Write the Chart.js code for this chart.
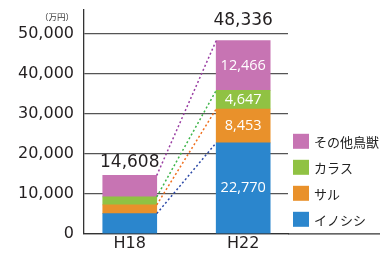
<!DOCTYPE html>
<html>
<head>
<meta charset="utf-8">
<script src="https://cdn.jsdelivr.net/npm/chart.js@4"></script>
<style>
  html, body { margin: 0; padding: 0; background: #fff; }
  #wrap { width: 380px; height: 253px; }
</style>
</head>
<body>
<div id="wrap"><canvas id="myChart"></canvas></div>
<script>
var years = ['H18', 'H22'];
var inoshishi = [5050, 22770];
var saru = [2200, 8453];
var karasu = [2000, 4647];
var sonota = [5358, 12466];
var yTicks = [0, 10000, 20000, 30000, 40000, 50000];

var seriesNames = ['イノシシ', 'サル', 'カラス', 'その他鳥獣'];
var seriesValues = [inoshishi, saru, karasu, sonota];
var barColors = ['#2b86cd', '#e9912b', '#90c243', '#c774b3'];
var lineColors = ['#2d4aa8', '#f0701f', '#3fb54a', '#9a3fa3'];

var textColor = '#231f20';
var numFont = 'DejaVu Sans';

function fmt(v) {
  return v.toLocaleString('en-US');
}

// dotted connectors, values in the H22 bar, totals on top, legend
var extras = {
  id: 'extras',
  afterDatasetsDraw: function (chart) {
    var ctx = chart.ctx;
    var area = chart.chartArea;
    var metas = [];
    for (var i = 0; i < chart.data.datasets.length; i++) {
      metas.push(chart.getDatasetMeta(i));
    }

    // base line runs on under the legend
    ctx.save();
    ctx.strokeStyle = '#333';
    ctx.lineWidth = 1.3;
    ctx.beginPath();
    ctx.moveTo(area.right, area.bottom);
    ctx.lineTo(chart.width, area.bottom);
    ctx.stroke();
    ctx.restore();

    ctx.save();
    ctx.setLineDash([2, 2.4]);
    ctx.lineWidth = 1.5;
    metas.forEach(function (meta, i) {
      var a = meta.data[0], b = meta.data[1];
      ctx.strokeStyle = lineColors[i];
      ctx.beginPath();
      ctx.moveTo(a.x + a.width / 2, a.y);
      ctx.lineTo(b.x - b.width / 2, b.y);
      ctx.stroke();
    });
    ctx.restore();

    ctx.save();
    ctx.fillStyle = '#fff';
    ctx.font = '14.5px "Open Sans"';
    ctx.textAlign = 'center';
    ctx.textBaseline = 'middle';
    metas.forEach(function (meta, i) {
      var el = meta.data[1];
      ctx.fillText(fmt(seriesValues[i][1]), el.x, (el.y + el.base) / 2);
    });
    ctx.restore();

    ctx.save();
    ctx.fillStyle = textColor;
    ctx.font = '17px "' + numFont + '"';
    ctx.textAlign = 'center';
    ctx.textBaseline = 'bottom';
    var gaps = [4, 12];
    years.forEach(function (y, j) {
      var total = 0;
      seriesValues.forEach(function (s) { total += s[j]; });
      var top = metas[metas.length - 1].data[j];
      ctx.fillText(fmt(total), top.x, top.y - gaps[j]);
    });
    ctx.restore();

    // unit label
    var ys = chart.scales.y;
    ctx.save();
    ctx.fillStyle = '#333';
    ctx.font = '8.5px "Noto Sans CJK JP"';
    ctx.textAlign = 'right';
    ctx.textBaseline = 'middle';
    ctx.fillText('（万円）', ys.right - 10, area.top + 7);
    ctx.restore();

    // legend, last series on top
    ctx.save();
    ctx.font = '13px "Noto Sans CJK JP"';
    ctx.textBaseline = 'middle';
    ctx.textAlign = 'left';
    var n = chart.data.datasets.length;
    var boxX = area.right + 5;
    var rowH = 26;
    var y0 = area.bottom - n * rowH + 4;
    for (var k = 0; k < n; k++) {
      var ds = chart.data.datasets[n - 1 - k];
      var yy = y0 + k * rowH;
      ctx.fillStyle = ds.backgroundColor;
      ctx.fillRect(boxX, yy, 16, 15);
      ctx.fillStyle = '#222';
      ctx.fillText(ds.label, boxX + 21, yy + 8);
    }
    ctx.restore();
  }
};

var datasets = seriesNames.map(function (name, i) {
  return {
    label: name,
    data: seriesValues[i].map(function (v, j) { return {x: j, y: v}; }),
    backgroundColor: barColors[i],
    borderWidth: 0,
    barThickness: 54
  };
});

const ctx = document.getElementById('myChart').getContext('2d');
const myChart = new Chart(ctx, {
  type: 'bar',
  data: { datasets: datasets },
  plugins: [extras],
  options: {
    responsive: true,
    maintainAspectRatio: false,
    animation: false,
    layout: { padding: { left: 16, top: 0, right: 92, bottom: 0 } },
    plugins: {
      tooltip: { enabled: false },
      legend: { display: false }
    },
    scales: {
      x: {
        type: 'linear',
        stacked: true,
        offset: false,
        min: -0.4035,
        max: 1.395,
        afterBuildTicks: function (scale) {
          scale.ticks = years.map(function (y, i) { return {value: i}; });
        },
        ticks: {
          padding: 0,
          color: textColor,
          font: { family: numFont, size: 16 },
          maxRotation: 0,
          autoSkip: false,
          callback: function (v) { return years[v]; }
        },
        grid: { display: false, drawTicks: false },
        border: { color: '#333', width: 1.3 }
      },
      y: {
        stacked: true,
        min: 0,
        max: 56000,
        afterBuildTicks: function (scale) {
          scale.ticks = yTicks.map(function (v) { return {value: v}; });
        },
        ticks: {
          padding: 2,
          color: textColor,
          font: { family: numFont, size: 16, lineHeight: 1 },
          callback: function (v) { return fmt(v); }
        },
        grid: { color: '#555', lineWidth: 1.3, drawTicks: true, tickLength: 8, tickColor: 'rgba(0,0,0,0)' },
        border: { color: '#333', width: 1.3 }
      }
    }
  }
});
</script>
</body>
</html>
